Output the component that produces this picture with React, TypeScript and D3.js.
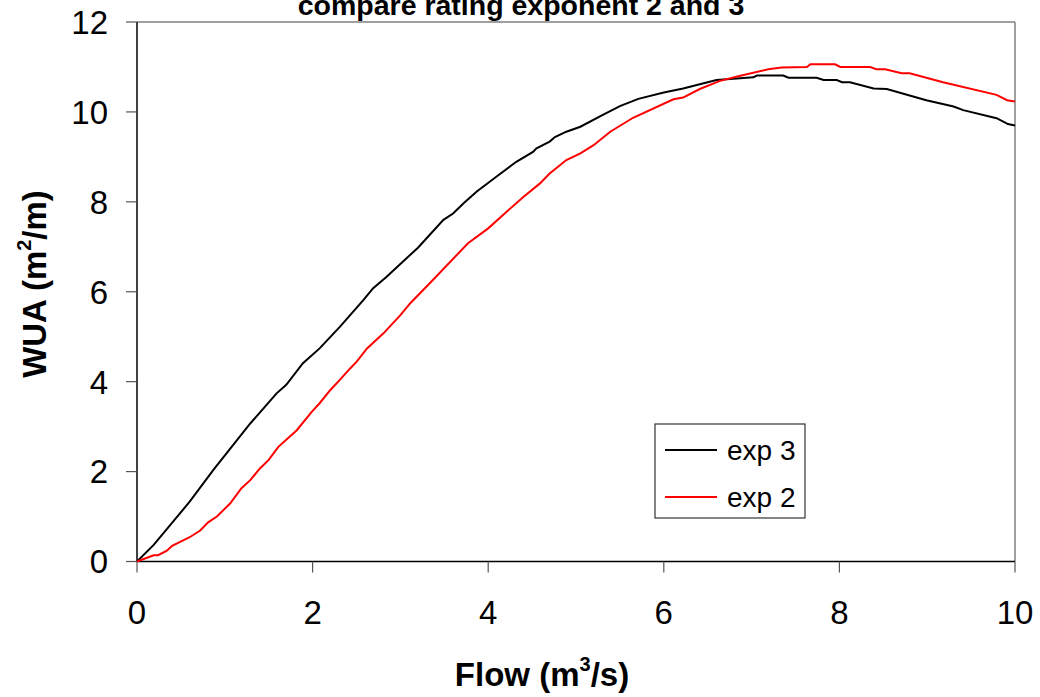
import React from "react";
import * as d3 from "d3";

const exp3X = [0, 0.19, 0.6, 0.87, 1.29, 1.59, 1.7, 1.89, 2.08, 2.31, 2.58, 2.69, 2.84, 3.2, 3.49, 3.6, 3.72, 3.87, 4.1, 4.32, 4.51, 4.55, 4.7, 4.76, 4.89, 5.05, 5.3, 5.5, 5.71, 6.0, 6.22, 6.6, 7.02, 7.06, 7.36, 7.42, 7.74, 7.82, 7.97, 8.03, 8.12, 8.39, 8.54, 8.99, 9.3, 9.41, 9.79, 9.92, 10];
const exp3Y = [0, 0.37, 1.33, 2.04, 3.07, 3.74, 3.93, 4.41, 4.74, 5.22, 5.82, 6.08, 6.33, 6.98, 7.6, 7.74, 7.97, 8.23, 8.57, 8.89, 9.11, 9.19, 9.34, 9.44, 9.56, 9.67, 9.93, 10.13, 10.29, 10.43, 10.52, 10.71, 10.77, 10.81, 10.81, 10.76, 10.76, 10.71, 10.71, 10.66, 10.66, 10.52, 10.51, 10.26, 10.12, 10.04, 9.86, 9.73, 9.7];

const exp2X = [0, 0.19, 0.24, 0.34, 0.4, 0.6, 0.72, 0.81, 0.91, 1.06, 1.19, 1.29, 1.4, 1.5, 1.61, 1.82, 1.99, 2.08, 2.2, 2.31, 2.43, 2.5, 2.62, 2.81, 3.0, 3.11, 3.37, 3.77, 4.0, 4.21, 4.4, 4.59, 4.7, 4.89, 5.05, 5.2, 5.39, 5.65, 6.11, 6.22, 6.41, 6.64, 6.86, 7.19, 7.34, 7.63, 7.67, 7.95, 8.01, 8.35, 8.42, 8.52, 8.71, 8.8, 9.18, 9.79, 9.91, 10];
const exp2Y = [0, 0.14, 0.14, 0.24, 0.35, 0.54, 0.69, 0.87, 1.0, 1.29, 1.63, 1.81, 2.07, 2.26, 2.55, 2.92, 3.33, 3.52, 3.81, 4.04, 4.3, 4.44, 4.74, 5.08, 5.48, 5.74, 6.26, 7.08, 7.41, 7.78, 8.11, 8.41, 8.63, 8.93, 9.08, 9.26, 9.56, 9.87, 10.28, 10.32, 10.51, 10.69, 10.8, 10.95, 10.99, 11.0, 11.06, 11.06, 11.0, 11.0, 10.95, 10.95, 10.86, 10.86, 10.66, 10.38, 10.26, 10.23];

const xTicks = [0, 2, 4, 6, 8, 10];
const yTicks = [0, 2, 4, 6, 8, 10, 12];
const seriesNames = ["exp 3", "exp 2"];
const seriesColors = ["#000000", "#ff0000"];

export default function App() {
  const W = 1040, H = 697;
  const left = 137, right = 1015, top = 22, bottom = 561.5;
  const x = d3.scaleLinear().domain([0, 10]).range([left, right]);
  const y = d3.scaleLinear().domain([0, 12]).range([bottom, top]);
  const line = d3.line<[number, number]>().x(d => x(d[0])).y(d => y(d[1]));
  const s3 = exp3X.map((v, i) => [v, exp3Y[i]] as [number, number]);
  const s2 = exp2X.map((v, i) => [v, exp2Y[i]] as [number, number]);
  const font = "'Liberation Sans', Arial, sans-serif";
  return (
    <svg width={W} height={H} style={{ position: "absolute", left: 0, top: 0, background: "#fff" }} fontFamily={font}>
      <rect x={0} y={0} width={W} height={H} fill="#fff" />
      <text x={521} y={15} textAnchor="middle" fontSize={28.5} fontWeight="bold">compare rating exponent 2 and 3</text>
      {/* frame top & right */}
      <line x1={left} y1={top} x2={right} y2={top} stroke="#808080" strokeWidth={1.5} />
      <line x1={right} y1={top} x2={right} y2={bottom} stroke="#808080" strokeWidth={1.5} />
      {/* axes */}
      <line x1={left} y1={top} x2={left} y2={bottom} stroke="#000" strokeWidth={1.5} />
      <line x1={left} y1={bottom} x2={right} y2={bottom} stroke="#000" strokeWidth={1.5} />
      {yTicks.map(t => (
        <g key={"y" + t}>
          <line x1={left - 11} x2={left} y1={y(t)} y2={y(t)} stroke="#555" strokeWidth={1.2} />
          <text x={108} y={y(t)} dy="0.36em" textAnchor="end" fontSize={33}>{t}</text>
        </g>
      ))}
      {xTicks.map(t => (
        <g key={"x" + t}>
          <line x1={x(t)} x2={x(t)} y1={bottom} y2={bottom + 11} stroke="#555" strokeWidth={1.2} />
          <text x={x(t)} y={612} dy="0.36em" textAnchor="middle" fontSize={33}>{t}</text>
        </g>
      ))}
      <path d={line(s3) || ""} fill="none" stroke={seriesColors[0]} strokeWidth={2} />
      <path d={line(s2) || ""} fill="none" stroke={seriesColors[1]} strokeWidth={2} />
      {/* axis titles */}
      <text x={542} y={686} textAnchor="middle" fontSize={33} fontWeight="bold">
        Flow (m<tspan dy={-15} fontSize={20}>3</tspan><tspan dy={15}>/s)</tspan>
      </text>
      <text transform="translate(46,284) rotate(-90)" textAnchor="middle" fontSize={33} fontWeight="bold">
        WUA (m<tspan dy={-15} fontSize={20}>2</tspan><tspan dy={15}>/m)</tspan>
      </text>
      {/* legend */}
      <rect x={655} y={424} width={150} height={94} fill="#fff" stroke="#333" strokeWidth={1.2} />
      {seriesNames.map((n, i) => (
        <g key={n}>
          <line x1={665} x2={717} y1={450 + i * 47} y2={450 + i * 47} stroke={seriesColors[i]} strokeWidth={2} />
          <text x={727} y={450 + i * 47} dy="0.36em" fontSize={28}>{n}</text>
        </g>
      ))}
    </svg>
  );
}
